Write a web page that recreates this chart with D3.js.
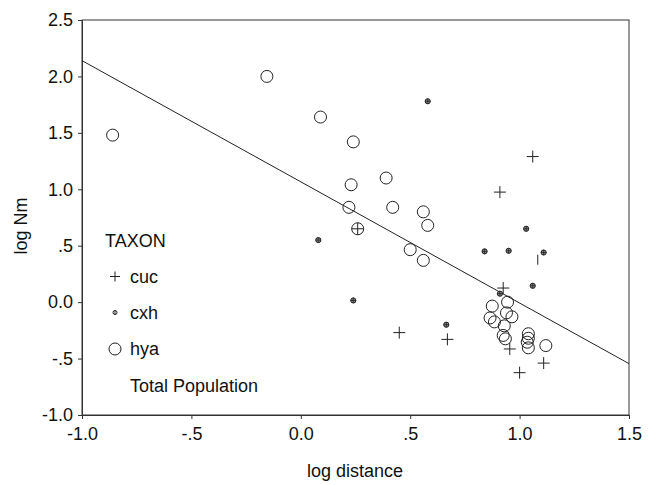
<!DOCTYPE html>
<html><head><meta charset="utf-8">
<script src="https://cdn.jsdelivr.net/npm/d3@7"></script>
<style>
body{margin:0;background:#fff;}
text{font-family:"Liberation Sans",Arial,sans-serif;fill:#111;}
</style></head>
<body><svg id="c" width="655" height="485"></svg>
<script>
const xTicks = [-1.0, -0.5, 0.0, 0.5, 1.0, 1.5];
const yTicks = [-1.0, -0.5, 0.0, 0.5, 1.0, 1.5, 2.0, 2.5];
const cuc = [[1.06,1.29],[0.91,0.975],[0.925,0.125],[0.45,-0.27],[0.67,-0.33],[0.955,-0.415],[1.11,-0.54],[1.0,-0.625],[0.26,0.65]];
const cucPartial = [[1.083,0.376]];
const cxh = [[0.58,1.78],[0.08,0.55],[1.03,0.65],[0.84,0.45],[0.95,0.455],[1.11,0.44],[1.06,0.145],[0.91,0.075],[0.24,0.015],[0.665,-0.20]];
const hya = [[-0.86,1.48],[-0.155,2.0],[0.09,1.64],[0.24,1.42],[0.39,1.10],[0.23,1.04],[0.42,0.84],[0.22,0.84],[0.56,0.80],[0.58,0.68],[0.26,0.65],[0.50,0.465],[0.56,0.37],[0.945,0.0],[0.875,-0.035],[0.94,-0.095],[0.965,-0.13],[0.865,-0.14],[0.885,-0.175],[0.93,-0.21],[0.925,-0.295],[0.935,-0.325],[1.04,-0.28],[1.04,-0.32],[1.035,-0.355],[1.04,-0.405],[1.12,-0.385]];
const fitLine = [[-1.0,2.14],[1.5,-0.545]];
const legendItems = ["cuc","cxh","hya","Total Population"];

const svg = d3.select("#c");
const L=82,R=629,T=20,B=415;
const x = d3.scaleLinear().domain([-1,1.5]).range([L,R]);
const y = d3.scaleLinear().domain([-1,2.5]).range([B,T]);
const fmt = v => {
  const a = Math.abs(v);
  let s = a.toFixed(1);
  if (a > 0 && a < 1) s = s.replace(/^0/, "");
  return (v < 0 ? "-" : "") + s;
};

svg.append("rect").attr("x",L).attr("y",T).attr("width",R-L).attr("height",B-T)
  .attr("fill","none").attr("stroke","#333").attr("stroke-width",1);

const xa = svg.append("g").attr("transform",`translate(0,${B})`)
  .call(d3.axisBottom(x).tickValues(xTicks).tickFormat(fmt).tickSize(4).tickPadding(8));
const ya = svg.append("g").attr("transform",`translate(${L},0)`)
  .call(d3.axisLeft(y).tickValues(yTicks).tickFormat(fmt).tickSize(4).tickPadding(5));
[xa,ya].forEach(a=>{a.selectAll("path").attr("stroke","#333");a.selectAll("line").attr("stroke","#333");
  a.selectAll("text").attr("font-size",18).attr("fill","#111").attr("font-family","Liberation Sans, Arial, sans-serif");});

svg.append("text").attr("x",355).attr("y",477).attr("text-anchor","middle").attr("font-size",18).text("log distance");
svg.append("text").attr("transform","translate(27,226) rotate(-90)").attr("text-anchor","middle").attr("font-size",18).text("log Nm");

// regression line
svg.append("line").attr("x1",x(fitLine[0][0])).attr("y1",y(fitLine[0][1]))
  .attr("x2",x(fitLine[1][0])).attr("y2",y(fitLine[1][1])).attr("stroke","#222").attr("stroke-width",1);

// hya
svg.append("g").selectAll("circle").data(hya).join("circle")
  .attr("cx",d=>x(d[0])).attr("cy",d=>y(d[1])).attr("r",6)
  .attr("fill","none").attr("stroke","#222").attr("stroke-width",1);
// cxh
const cg = svg.append("g").selectAll("g").data(cxh).join("g")
  .attr("transform",d=>`translate(${x(d[0])},${y(d[1])})`);
cg.append("circle").attr("r",2.6).attr("fill","#888").attr("stroke","#222").attr("stroke-width",1);
cg.append("path").attr("d","M-2.6,0H2.6M0,-2.6V2.6").attr("stroke","#222").attr("stroke-width",0.8);
// cuc
svg.append("g").selectAll("path").data(cuc).join("path")
  .attr("transform",d=>`translate(${x(d[0])},${y(d[1])})`)
  .attr("d","M-6,0H6M0,-6V6").attr("stroke","#222").attr("stroke-width",1).attr("fill","none");
svg.append("g").selectAll("path").data(cucPartial).join("path")
  .attr("transform",d=>`translate(${x(d[0])},${y(d[1])})`)
  .attr("d","M0,-5V5").attr("stroke","#222").attr("stroke-width",1);

// legend
const lg = svg.append("g");
lg.append("text").attr("x",105).attr("y",247).attr("font-size",18).text("TAXON");
const ly = [283,319,355,392];
legendItems.forEach((t,i)=>{
  lg.append("text").attr("x",130).attr("y",ly[i]).attr("font-size",18).text(t);
});
lg.append("path").attr("d",`M110,276.5H120M115,271.5V281.5`).attr("stroke","#222").attr("fill","none");
lg.append("circle").attr("cx",115).attr("cy",312.5).attr("r",2).attr("fill","none").attr("stroke","#222");
lg.append("path").attr("d","M115,310.5V314.5").attr("stroke","#222");
lg.append("circle").attr("cx",115).attr("cy",349).attr("r",6).attr("fill","none").attr("stroke","#222");
</script></body></html>
